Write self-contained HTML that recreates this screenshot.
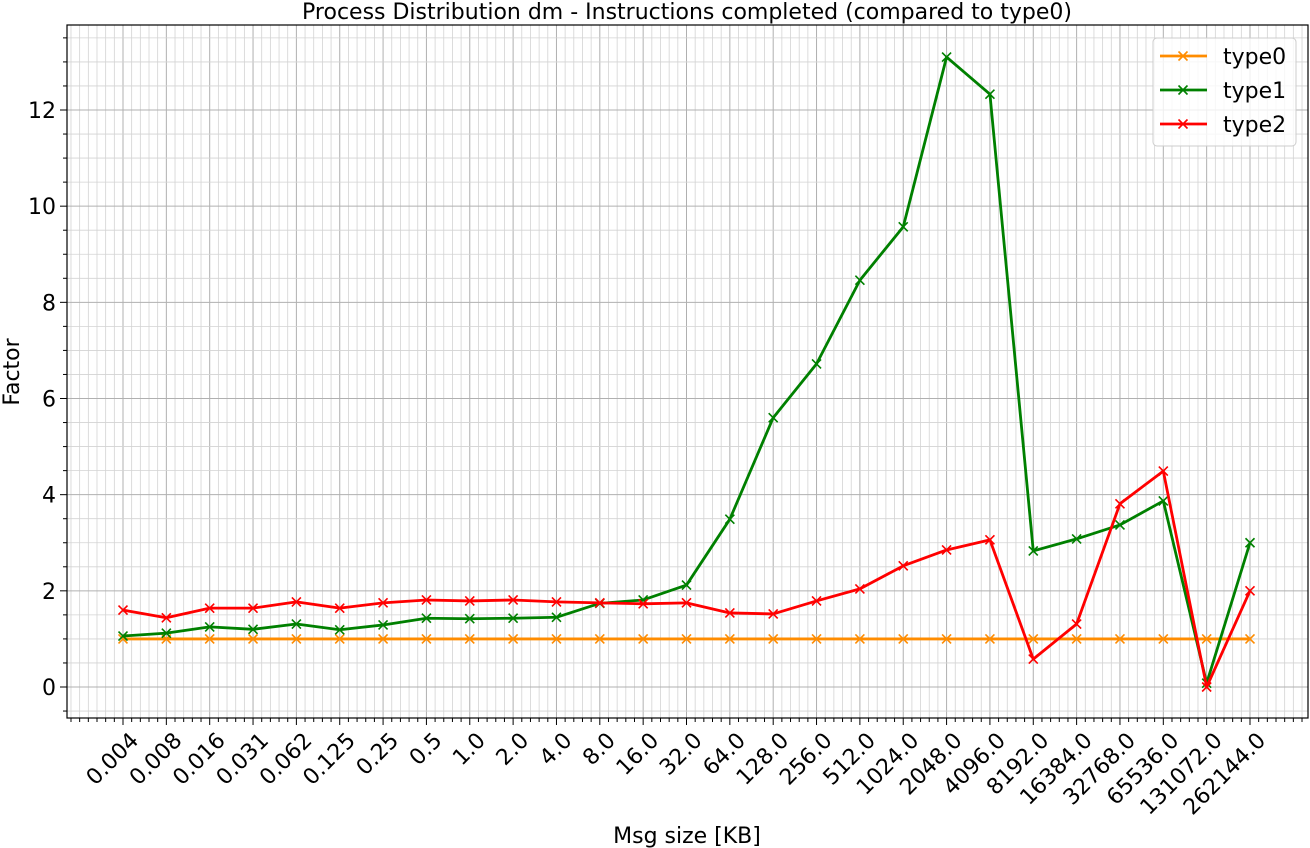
<!DOCTYPE html>
<html><head><meta charset="utf-8"><style>
html,body{margin:0;padding:0;background:#fff;}
svg{display:block;font-family:"DejaVu Sans","Liberation Sans",sans-serif;}
</style></head><body>
<svg id="chart" width="1310" height="848" viewBox="0 0 1310 848" xmlns="http://www.w3.org/2000/svg">
<rect width="1310" height="848" fill="#fff"/>
<g id="grid"></g>
<g id="series"></g>
<g id="axes"></g>
<text x="687" y="19" text-anchor="middle" font-size="22">Process Distribution dm - Instructions completed (compared to type0)</text>
<text x="687" y="843" text-anchor="middle" font-size="22">Msg size [KB]</text>
<text transform="translate(19,372) rotate(-90)" text-anchor="middle" font-size="22">Factor</text>
<g>
<rect x="1153" y="38" width="143" height="108" rx="4" fill="#fff" fill-opacity="0.8" stroke="#ccc"/>
<g id="legend"></g>
</g>
</svg>
<script>
const categories=["0.004","0.008","0.016","0.031","0.062","0.125","0.25","0.5","1.0","2.0","4.0","8.0","16.0","32.0","64.0","128.0","256.0","512.0","1024.0","2048.0","4096.0","8192.0","16384.0","32768.0","65536.0","131072.0","262144.0"];
const type0=[1,1,1,1,1,1,1,1,1,1,1,1,1,1,1,1,1,1,1,1,1,1,1,1,1,1,1];
const type1=[1.06,1.12,1.25,1.2,1.31,1.19,1.29,1.43,1.42,1.43,1.45,1.74,1.81,2.12,3.49,5.6,6.72,8.46,9.57,13.1,12.33,2.83,3.08,3.37,3.87,0.08,3.0];
const type2=[1.6,1.44,1.64,1.64,1.77,1.64,1.75,1.81,1.79,1.81,1.77,1.75,1.73,1.75,1.54,1.52,1.79,2.04,2.52,2.85,3.06,0.58,1.31,3.81,4.49,0.0,2.0];
const yTicks=[0,2,4,6,8,10,12];
const seriesNames=["type0","type1","type2"];
const seriesColors=["#ff8c00","#008000","#ff0000"];
const L=67,R=1308,T=25,B=718;
const x=i=>123+i*(1250-123)/26;
const y=v=>687-v*(687-110)/12;
const NS="http://www.w3.org/2000/svg";
function mk(tag,attrs,parent){const e=document.createElementNS(NS,tag);for(const k in attrs)e.setAttribute(k,attrs[k]);parent.appendChild(e);return e;}
const grid=document.getElementById('grid'),axes=document.getElementById('axes'),ser=document.getElementById('series'),leg=document.getElementById('legend');
const step=(1250-123)/26/5;
for(let k=-6;k<=140;k++){const px=123+k*step;if(px<L||px>R)continue;const major=k%5===0&&k>=0&&k<=130;
 const ln=mk('line',{x1:px,x2:px,y1:T,y2:B,stroke:major?'#b0b0b0':'#d3d3d3','stroke-width':major?1:0.8},grid);
 
 
 const tk=mk('line',{x1:px,x2:px,y1:B,y2:B+(major?7:4),stroke:'#000','stroke-width':1},axes);
 
 }
for(let v=-0.5;v<=13.6;v+=0.5){const py=y(v);const major=Math.abs(v%2)<1e-9;
 const ln=mk('line',{x1:L,x2:R,y1:py,y2:py,stroke:major?'#b0b0b0':'#d3d3d3','stroke-width':major?1:0.8},grid);
 
 
 const tk=mk('line',{x1:L-(major?7:4),x2:L,y1:py,y2:py,stroke:'#000','stroke-width':1},axes);
 
 }
const frame=mk('rect',{x:L,y:T,width:R-L,height:B-T,fill:'none',stroke:'#000','stroke-width':1.2},axes);


yTicks.forEach(v=>{const t=mk('text',{x:L-11,y:y(v)+8,'text-anchor':'end','font-size':22},axes);t.textContent=v;
 
 });
categories.forEach((c,i)=>{const t=mk('text',{transform:`translate(${x(i)+6},${B+13}) rotate(-45)`,'text-anchor':'end','font-size':22,'dominant-baseline':'hanging'},axes);t.textContent=c;
 
 });
function cross(g,cx,cy,col){mk('path',{d:`M${cx-4.5},${cy-4.5}L${cx+4.5},${cy+4.5}M${cx-4.5},${cy+4.5}L${cx+4.5},${cy-4.5}`,stroke:col,'stroke-width':1.6,fill:'none'},g);}
[type0,type1,type2].forEach((data,s)=>{const g=mk('g',{},ser);
 
 
 const pl=mk('polyline',{points:data.map((v,i)=>x(i)+','+y(v)).join(' '),fill:'none',stroke:seriesColors[s],'stroke-width':2.8,'stroke-linejoin':'round'},g);
 
 
 data.forEach((v,i)=>cross(g,x(i),y(v),seriesColors[s]));
 const ly=56+s*34;
 const lg=mk('g',{},leg);
 
 
 mk('line',{x1:1160,x2:1207,y1:ly,y2:ly,stroke:seriesColors[s],'stroke-width':2.8},lg);
 cross(lg,1183,ly,seriesColors[s]);
 const t=mk('text',{x:1223,y:ly+8,'font-size':22},lg);t.textContent=seriesNames[s];});
</script>
</body></html>
